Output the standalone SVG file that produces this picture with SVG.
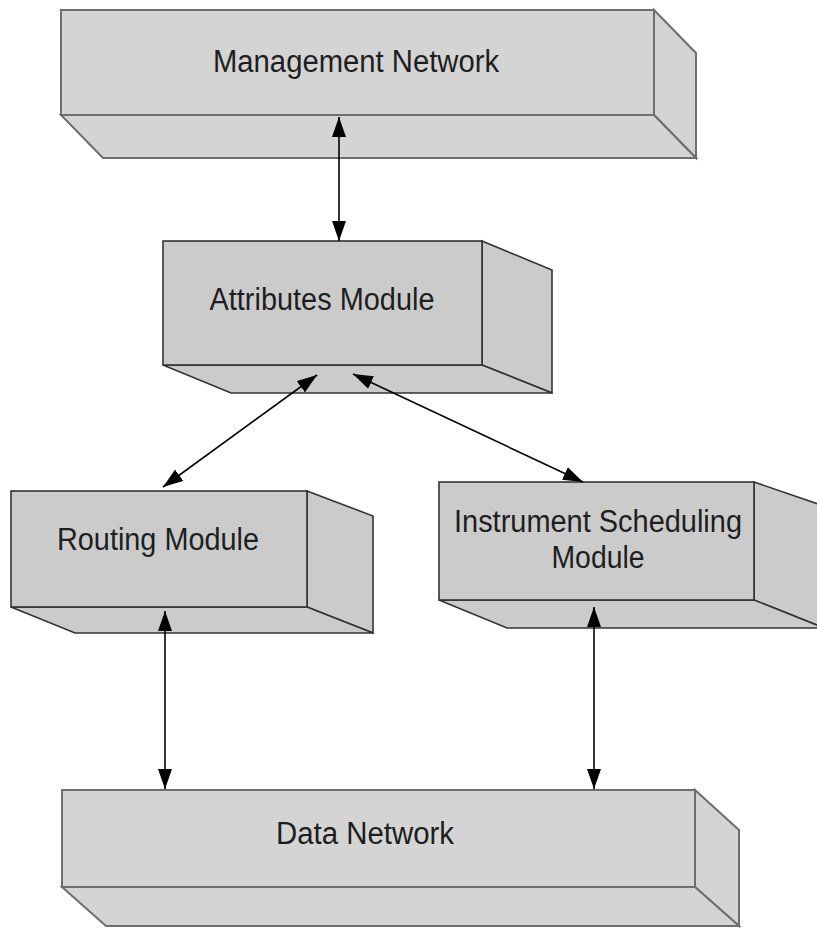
<svg xmlns="http://www.w3.org/2000/svg" width="817" height="928" viewBox="0 0 817 928">
<defs>
<style>
.net{fill:#d4d4d4;stroke:#6e6e6e;stroke-width:2;stroke-linejoin:miter}
.mod{fill:#cbcbcb;stroke:#333;stroke-width:1.6;stroke-linejoin:miter}
.lbl{font-family:"Liberation Sans",Arial,sans-serif;font-size:31px;fill:#1e1e1e;text-anchor:middle}
.con{stroke:#000;stroke-width:1.6;fill:none;marker-start:url(#ah);marker-end:url(#ah)}
</style>
<marker id="ah" markerUnits="userSpaceOnUse" markerWidth="20" markerHeight="14" refX="20" refY="7" orient="auto-start-reverse">
<path d="M0,0 L20,7 L0,14 z" fill="#000"/>
</marker>
</defs>
<rect width="817" height="928" fill="#fff"/>

<g id="management-network">
<polygon class="net" points="654,10 696,53 696,158 654,115"/>
<polygon class="net" points="61,115 654,115 696,158 103,158"/>
<rect class="net" x="61" y="10" width="593" height="105"/>
<text class="lbl" x="356" y="72" textLength="286" lengthAdjust="spacingAndGlyphs">Management Network</text>
</g>

<g id="attributes-module">
<polygon class="mod" points="482,241 552,270 552,393 482,365"/>
<polygon class="mod" points="163,365 482,365 552,393 231,393"/>
<rect class="mod" x="163" y="241" width="319" height="124"/>
<text class="lbl" x="322" y="310" textLength="225" lengthAdjust="spacingAndGlyphs">Attributes Module</text>
</g>

<g id="routing-module">
<polygon class="mod" points="307,491 373,516 373,633 307,607"/>
<polygon class="mod" points="11,607 307,607 373,633 75,633"/>
<rect class="mod" x="11" y="491" width="296" height="116"/>
<text class="lbl" x="158" y="550" textLength="202" lengthAdjust="spacingAndGlyphs">Routing Module</text>
</g>

<g id="instrument-scheduling-module">
<polygon class="mod" points="754,482 824,506 824,628 754,600"/>
<polygon class="mod" points="439,600 754,600 824,628 507,628"/>
<rect class="mod" x="439" y="482" width="315" height="118"/>
<text class="lbl" x="598" y="532" textLength="288" lengthAdjust="spacingAndGlyphs">Instrument Scheduling</text>
<text class="lbl" x="598" y="568" textLength="93" lengthAdjust="spacingAndGlyphs">Module</text>
</g>

<g id="data-network">
<polygon class="net" points="695,790 739,830 739,926 695,887"/>
<polygon class="net" points="62,887 695,887 739,926 106,926"/>
<rect class="net" x="62" y="790" width="633" height="97"/>
<text class="lbl" x="365" y="844" textLength="178" lengthAdjust="spacingAndGlyphs">Data Network</text>
</g>

<g id="connectors">
<line class="con" x1="339" y1="117" x2="339" y2="241"/>
<line class="con" x1="317" y1="375" x2="163" y2="487"/>
<line class="con" x1="353" y1="374" x2="583" y2="482"/>
<line class="con" x1="165" y1="611" x2="165" y2="789"/>
<line class="con" x1="594" y1="607" x2="594" y2="789"/>
</g>
</svg>
